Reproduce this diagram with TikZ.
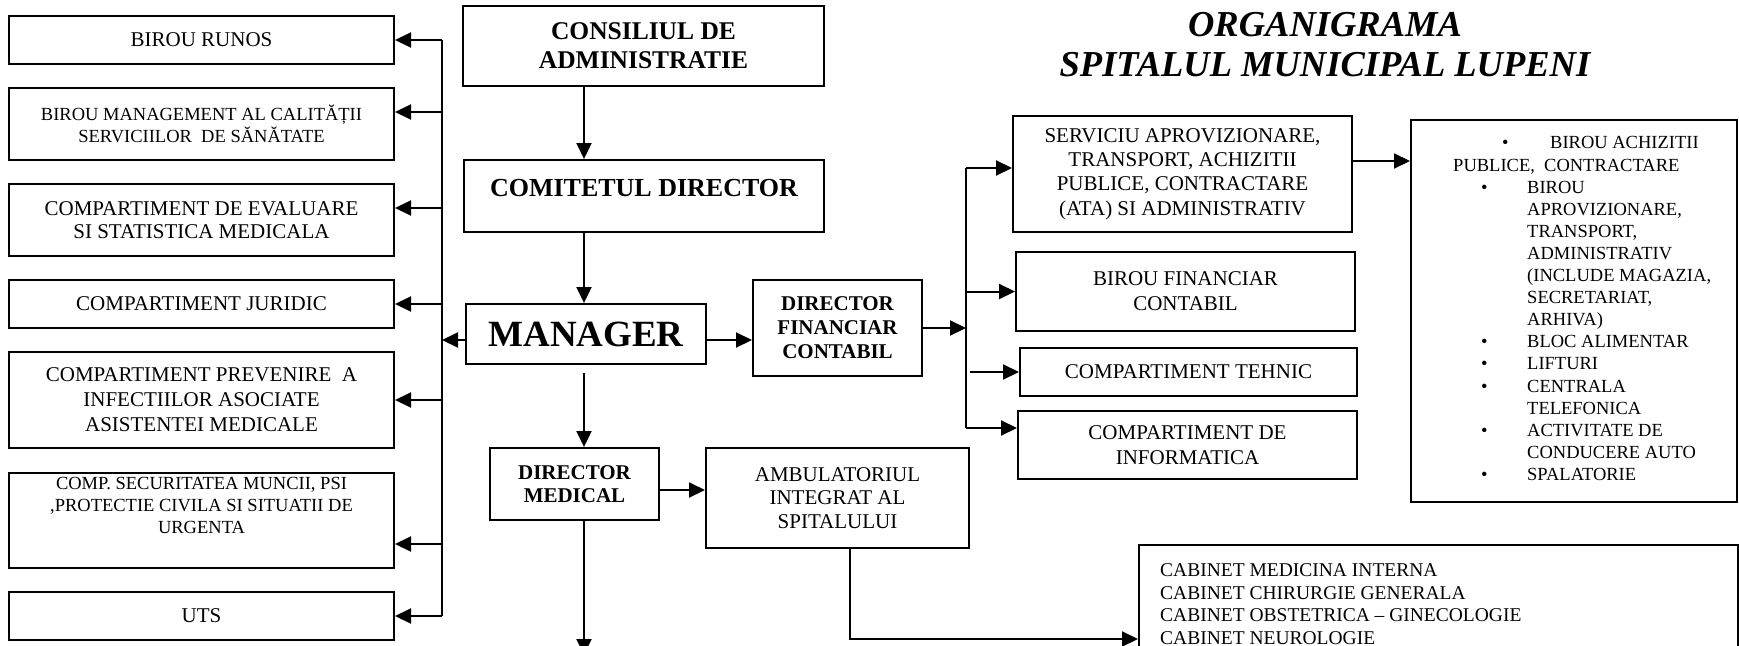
\documentclass[tikz,border=0pt]{standalone}
\usepackage{fontspec}
\setmainfont{Liberation Serif}
\usetikzlibrary{arrows.meta,calc}
\newcommand{\fsz}[2]{\fontsize{#1}{#2}\selectfont}
\begin{document}
\begin{tikzpicture}[x=1pt,y=-1pt,
  box/.style={draw, line width=2pt, rectangle, inner sep=0pt, align=center},
  arr/.style={line width=2pt, -{Triangle[length=16pt,width=15pt]}},
  ln/.style={line width=2pt},
  lbox/.style={box, minimum width=385pt},
]
\clip (0,0) rectangle (1739,645);
\fill[white] (0,0) rectangle (1739,645);

% ---------- left column ----------
\node[lbox, minimum height=48pt, font=\fsz{21}{24}] (r1) at (201.5,40) {BIROU RUNOS};
\node[lbox, minimum height=72pt, font=\fsz{18.5}{22}] (r2) at (201.5,124) {BIROU MANAGEMENT AL CALITĂȚII\\SERVICIILOR\ \ DE SĂNĂTATE};
\node[lbox, minimum height=72pt, font=\fsz{21}{23.5}] (r3) at (201.5,220) {COMPARTIMENT DE EVALUARE\\SI STATISTICA MEDICALA};
\node[lbox, minimum height=48pt, font=\fsz{21}{24}] (r4) at (201.5,304) {COMPARTIMENT JURIDIC};
\node[lbox, minimum height=96pt, font=\fsz{21}{25}] (r5) at (201.5,400) {COMPARTIMENT PREVENIRE\ \ A\\INFECTIILOR ASOCIATE\\ASISTENTEI MEDICALE};
\node[lbox, minimum height=95pt, font=\fsz{18.5}{22}] (r6) at (201.5,520.5) {COMP. SECURITATEA MUNCII, PSI\\,PROTECTIE CIVILA SI SITUATII DE\\URGENTA\\[8pt]};
\node[lbox, minimum height=48pt, font=\fsz{21}{24}] (r7) at (201.5,616) {UTS};

\coordinate (bus) at (442,0);
\coordinate (r2in) at ($(r2.east)+(0,-12)$);
\coordinate (r3in) at ($(r3.east)+(0,-12)$);
\coordinate (r6in) at ($(r6.east)+(0,23.5)$);
\draw[ln] (bus |- r1.east) -- (bus |- r7.east);
\draw[arr] (bus |- r1.east) -- (r1.east);
\draw[arr] (bus |- r2in) -- (r2in);
\draw[arr] (bus |- r3in) -- (r3in);
\draw[arr] (bus |- r4.east) -- (r4.east);
\draw[arr] (bus |- r5.east) -- (r5.east);
\draw[arr] (bus |- r6in) -- (r6in);
\draw[arr] (bus |- r7.east) -- (r7.east);

% ---------- centre column ----------
\node[box, minimum width=361pt, minimum height=80pt, font=\bfseries\fsz{25.5}{29}] (cons) at (643.5,46) {CONSILIUL DE\\ADMINISTRATIE};
\node[box, minimum width=360pt, minimum height=72pt, text height=18pt, text depth=18pt, font=\bfseries\fsz{26}{29}] (com) at (644,196) {COMITETUL DIRECTOR};
\node[box, minimum width=240pt, minimum height=60pt, font=\bfseries\fsz{37}{40}] (mgr) at (586,334) {MANAGER};
\node[box, minimum width=169pt, minimum height=96pt, font=\bfseries\fsz{21}{24}] (df) at (837.5,328) {DIRECTOR\\FINANCIAR\\CONTABIL};
\node[box, minimum width=169pt, minimum height=72pt, font=\bfseries\fsz{21}{23}] (dm) at (574.5,484) {DIRECTOR\\MEDICAL};
\node[box, minimum width=263pt, minimum height=100pt, font=\fsz{21}{23.5}] (amb) at (837.5,498) {AMBULATORIUL\\INTEGRAT AL\\SPITALULUI};

\coordinate (spine) at (584,0);
\coordinate (mgrw) at ($(mgr.west)+(0,6)$);
\coordinate (mgre) at ($(mgr.east)+(0,6)$);
\coordinate (mgrs) at ($(mgr.south)+(0,8)$);
\coordinate (dme) at ($(dm.east)+(0,6)$);
\coordinate (dmout) at (584,655);
\draw[arr] (spine |- cons.south) -- (spine |- com.north);
\draw[arr] (spine |- com.south) -- (spine |- mgr.north);
\draw[arr] (mgrw) -- (bus |- mgrw);
\draw[arr] (mgre) -- (df.west |- mgre);
\draw[arr] (spine |- mgrs) -- (spine |- dm.north);
\draw[arr] (dme) -- (amb.west |- dme);
\draw[arr] (spine |- dm.south) -- (dmout);

% ---------- title ----------
\node[font=\bfseries\itshape\fsz{36.5}{40}, align=center, inner sep=0pt] (title) at (1325,45) {ORGANIGRAMA\\SPITALUL MUNICIPAL LUPENI};

% ---------- right column ----------
\node[box, minimum width=339pt, minimum height=116pt, font=\fsz{21}{24.4}] (sv) at (1182.5,174) {SERVICIU APROVIZIONARE,\\TRANSPORT, ACHIZITII\\PUBLICE, CONTRACTARE\\(ATA) SI ADMINISTRATIV};
\node[box, minimum width=339pt, minimum height=79pt, font=\fsz{21}{25}] (bf) at (1185.5,291.5) {BIROU FINANCIAR\\CONTABIL};
\node[box, minimum width=337pt, minimum height=48pt, font=\fsz{21}{24}] (teh) at (1188.5,372) {COMPARTIMENT TEHNIC};
\node[box, minimum width=339pt, minimum height=68pt, font=\fsz{21}{25}] (inf) at (1187.5,445) {COMPARTIMENT DE\\INFORMATICA};

\coordinate (bus2) at (966,0);
\coordinate (svin) at ($(sv.west)+(0,-6)$);
\coordinate (infin) at ($(inf.west)+(0,-17)$);
\coordinate (tehs) at ($(bus2 |- teh.west)+(4,0)$);
\draw[arr] (df.east) -- (bus2 |- df.east);
\draw[ln] (bus2 |- svin) -- (bus2 |- infin);
\draw[arr] (bus2 |- svin) -- (svin);
\draw[arr] (bus2 |- bf.west) -- (bf.west);
\draw[arr] (tehs) -- (teh.west);
\draw[arr] (bus2 |- infin) -- (infin);

% big list box
\node[box, minimum width=326pt, minimum height=382pt] (big) at (1574,311) {};
\coordinate (svout) at ($(sv.east)+(0,-13)$);
\draw[arr] (svout) -- (big.west |- svout);
\node[anchor=north west, inner sep=0pt, align=left, font=\fsz{18.5}{22.1}] (lst) at (1453,136.5) {%
\hspace*{49pt}\makebox[48pt][l]{\textbullet}BIROU ACHIZITII\\
PUBLICE,\ \ CONTRACTARE\\
\hspace*{28pt}\makebox[46pt][l]{\textbullet}BIROU\\
\hspace*{74pt}APROVIZIONARE,\\
\hspace*{74pt}TRANSPORT,\\
\hspace*{74pt}ADMINISTRATIV\\
\hspace*{74pt}(INCLUDE MAGAZIA,\\
\hspace*{74pt}SECRETARIAT,\\
\hspace*{74pt}ARHIVA)\\
\hspace*{28pt}\makebox[46pt][l]{\textbullet}BLOC ALIMENTAR\\
\hspace*{28pt}\makebox[46pt][l]{\textbullet}LIFTURI\\
\hspace*{28pt}\makebox[46pt][l]{\textbullet}CENTRALA\\
\hspace*{74pt}TELEFONICA\\
\hspace*{28pt}\makebox[46pt][l]{\textbullet}ACTIVITATE DE\\
\hspace*{74pt}CONDUCERE AUTO\\
\hspace*{28pt}\makebox[46pt][l]{\textbullet}SPALATORIE};

% cabinet box (cut by the page edge)
\node[box, minimum width=599pt, minimum height=130pt, anchor=north west] (cab) at (1138,544) {};
\node[anchor=north west, inner sep=0pt, align=left, font=\fsz{19.5}{22.5}] (cabt) at (1160,563.5) {CABINET MEDICINA INTERNA\\CABINET CHIRURGIE GENERALA\\CABINET OBSTETRICA -- GINECOLOGIE\\CABINET NEUROLOGIE};
\coordinate (ambs) at ($(amb.south)+(12.5,0)$);
\coordinate (cabin) at ($(cab.north west)+(0,95)$);
\draw[arr] (ambs) |- (cabin);
\end{tikzpicture}
\end{document}
